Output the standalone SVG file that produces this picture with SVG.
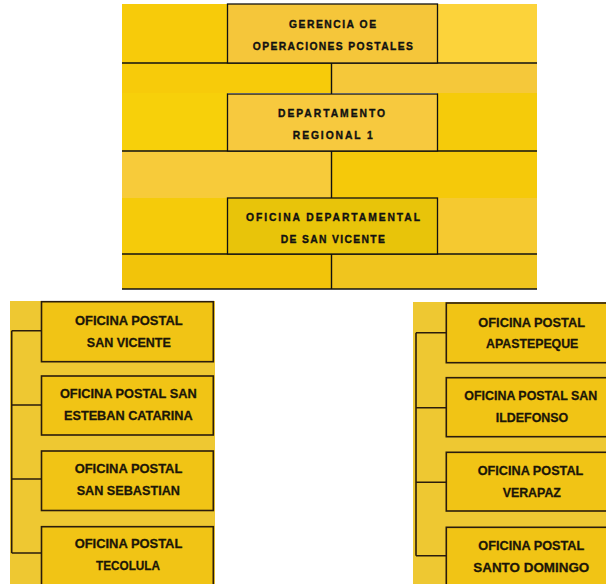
<svg xmlns="http://www.w3.org/2000/svg" width="606" height="584" viewBox="0 0 606 584">
<style>
.ln{stroke:#111;stroke-width:1.4;fill:none}
.tb{stroke:#111;stroke-width:1.3}
.tt{font-family:"Liberation Sans",Arial,sans-serif;font-weight:bold;font-size:10.3px;fill:#111;stroke:#111;stroke-width:0.35;text-anchor:middle}
.pb{stroke:#2a1c0c;stroke-width:1.6;fill:#F1C415}
.pt{font-family:"Liberation Sans",Arial,sans-serif;font-weight:bold;font-size:13.5px;fill:#1c1608;stroke:#1c1608;stroke-width:0.3;text-anchor:middle}
.cn{stroke:#2a1c0c;stroke-width:1.6;fill:none}
</style>
<rect width="606" height="584" fill="#fff"/>
<g id="background">
<rect x="122" y="4" width="106" height="59" fill="#F7CB0A"/>
<rect x="437" y="4" width="100" height="59" fill="#FCD33A"/>
<rect x="122" y="63" width="209" height="30" fill="#F7CB0A"/>
<rect x="331" y="63" width="206" height="30" fill="#F5C83A"/>
<rect x="122" y="93" width="106" height="58" fill="#F7D00A"/>
<rect x="437" y="93" width="100" height="58" fill="#F5CB0A"/>
<rect x="122" y="151" width="209" height="47" fill="#F7CB3A"/>
<rect x="331" y="151" width="206" height="47" fill="#F5C90A"/>
<rect x="122" y="198" width="106" height="56" fill="#F5CB0A"/>
<rect x="437" y="198" width="100" height="56" fill="#F5C930"/>
<rect x="122" y="254" width="209" height="35" fill="#F2C40A"/>
<rect x="331" y="254" width="206" height="35" fill="#F0C51E"/>
<rect x="10" y="301" width="205" height="283" fill="#EEC832"/>
<rect x="413" y="302" width="193" height="282" fill="#EEC832"/>
</g>
<g id="connectors">
<line class="ln" x1="122" y1="63" x2="537" y2="63"/>
<line class="ln" x1="331.5" y1="63" x2="331.5" y2="94"/>
<line class="ln" x1="122" y1="151" x2="537" y2="151"/>
<line class="ln" x1="331.5" y1="151" x2="331.5" y2="198"/>
<line class="ln" x1="122" y1="254" x2="537" y2="254"/>
<line class="ln" x1="331.5" y1="254" x2="331.5" y2="289"/>
<line class="ln" x1="122" y1="289" x2="537" y2="289"/>
<path class="cn" d="M11.7 330.7V553M11.7 330.7H41.5M11.7 405H41.5M11.7 479H41.5M11.7 553H41.5"/>
<path class="cn" d="M416 332.7V555.7M416 332.7H446.3M416 407.7H446.3M416 482.3H446.3M416 555.7H446.3"/>
</g>
<g id="gerencia">
<rect class="tb" x="227.5" y="4" width="210" height="59" fill="#F5C63A"/>
<text class="tt" x="332.5" y="28.3" textLength="87" lengthAdjust="spacing">GERENCIA OE</text>
<text class="tt" x="332.8" y="50" textLength="160" lengthAdjust="spacing">OPERACIONES  POSTALES</text>
</g>
<g id="departamento">
<rect class="tb" x="227.5" y="94" width="210" height="57" fill="#F7C93E"/>
<text class="tt" x="331.5" y="116.7" textLength="107" lengthAdjust="spacing">DEPARTAMENTO</text>
<text class="tt" x="332.8" y="139.3" textLength="80" lengthAdjust="spacing">REGIONAL  1</text>
</g>
<g id="oficina-departamental">
<rect class="tb" x="227.5" y="198" width="210" height="56" fill="#E8C40A"/>
<text class="tt" x="333" y="221" textLength="174" lengthAdjust="spacing">OFICINA  DEPARTAMENTAL</text>
<text class="tt" x="332.8" y="243" textLength="104" lengthAdjust="spacing">DE SAN VICENTE</text>
</g>
<g id="op-san-vicente">
<rect class="pb" x="41.5" y="301.7" width="171.8" height="60"/>
<text class="pt" x="128.8" y="325" textLength="107.7" lengthAdjust="spacingAndGlyphs">OFICINA POSTAL</text>
<text class="pt" x="128.8" y="346.7" textLength="84" lengthAdjust="spacingAndGlyphs">SAN VICENTE</text>
</g>
<g id="op-san-esteban-catarina">
<rect class="pb" x="41.5" y="376" width="171.8" height="59"/>
<text class="pt" x="128.3" y="398.3" textLength="136.7" lengthAdjust="spacingAndGlyphs">OFICINA POSTAL SAN</text>
<text class="pt" x="128.3" y="420" textLength="128.7" lengthAdjust="spacingAndGlyphs">ESTEBAN CATARINA</text>
</g>
<g id="op-san-sebastian">
<rect class="pb" x="41.5" y="451" width="171.8" height="59.5"/>
<text class="pt" x="128.5" y="473.3" textLength="107.7" lengthAdjust="spacingAndGlyphs">OFICINA POSTAL</text>
<text class="pt" x="128.3" y="495" textLength="103.3" lengthAdjust="spacingAndGlyphs">SAN SEBASTIAN</text>
</g>
<g id="op-tecolula">
<rect class="pb" x="41.5" y="526.7" width="171.8" height="70"/>
<text class="pt" x="128.5" y="548.3" textLength="107.7" lengthAdjust="spacingAndGlyphs">OFICINA POSTAL</text>
<text class="pt" x="128" y="570" textLength="64" lengthAdjust="spacingAndGlyphs">TECOLULA</text>
</g>
<g id="op-apastepeque">
<rect class="pb" x="446.3" y="303" width="161" height="59.7"/>
<text class="pt" x="531.7" y="326.7" textLength="106.7" lengthAdjust="spacingAndGlyphs">OFICINA POSTAL</text>
<text class="pt" x="532.2" y="348.3" textLength="92.3" lengthAdjust="spacingAndGlyphs">APASTEPEQUE</text>
</g>
<g id="op-san-ildefonso">
<rect class="pb" x="446.3" y="377.7" width="161" height="59"/>
<text class="pt" x="530.8" y="400" font-size="12" textLength="133" lengthAdjust="spacingAndGlyphs">OFICINA POSTAL SAN</text>
<text class="pt" x="532" y="421.7" textLength="72.6" lengthAdjust="spacingAndGlyphs">ILDEFONSO</text>
</g>
<g id="op-verapaz">
<rect class="pb" x="446.3" y="452.3" width="161" height="58.7"/>
<text class="pt" x="530.5" y="475" textLength="105.6" lengthAdjust="spacingAndGlyphs">OFICINA POSTAL</text>
<text class="pt" x="531.8" y="496.7" textLength="58.3" lengthAdjust="spacingAndGlyphs">VERAPAZ</text>
</g>
<g id="op-santo-domingo">
<rect class="pb" x="446.3" y="527.3" width="161" height="70"/>
<text class="pt" x="531.3" y="550" textLength="106" lengthAdjust="spacingAndGlyphs">OFICINA POSTAL</text>
<text class="pt" x="531.3" y="571.7" textLength="116" lengthAdjust="spacingAndGlyphs">SANTO DOMINGO</text>
</g>
</svg>
